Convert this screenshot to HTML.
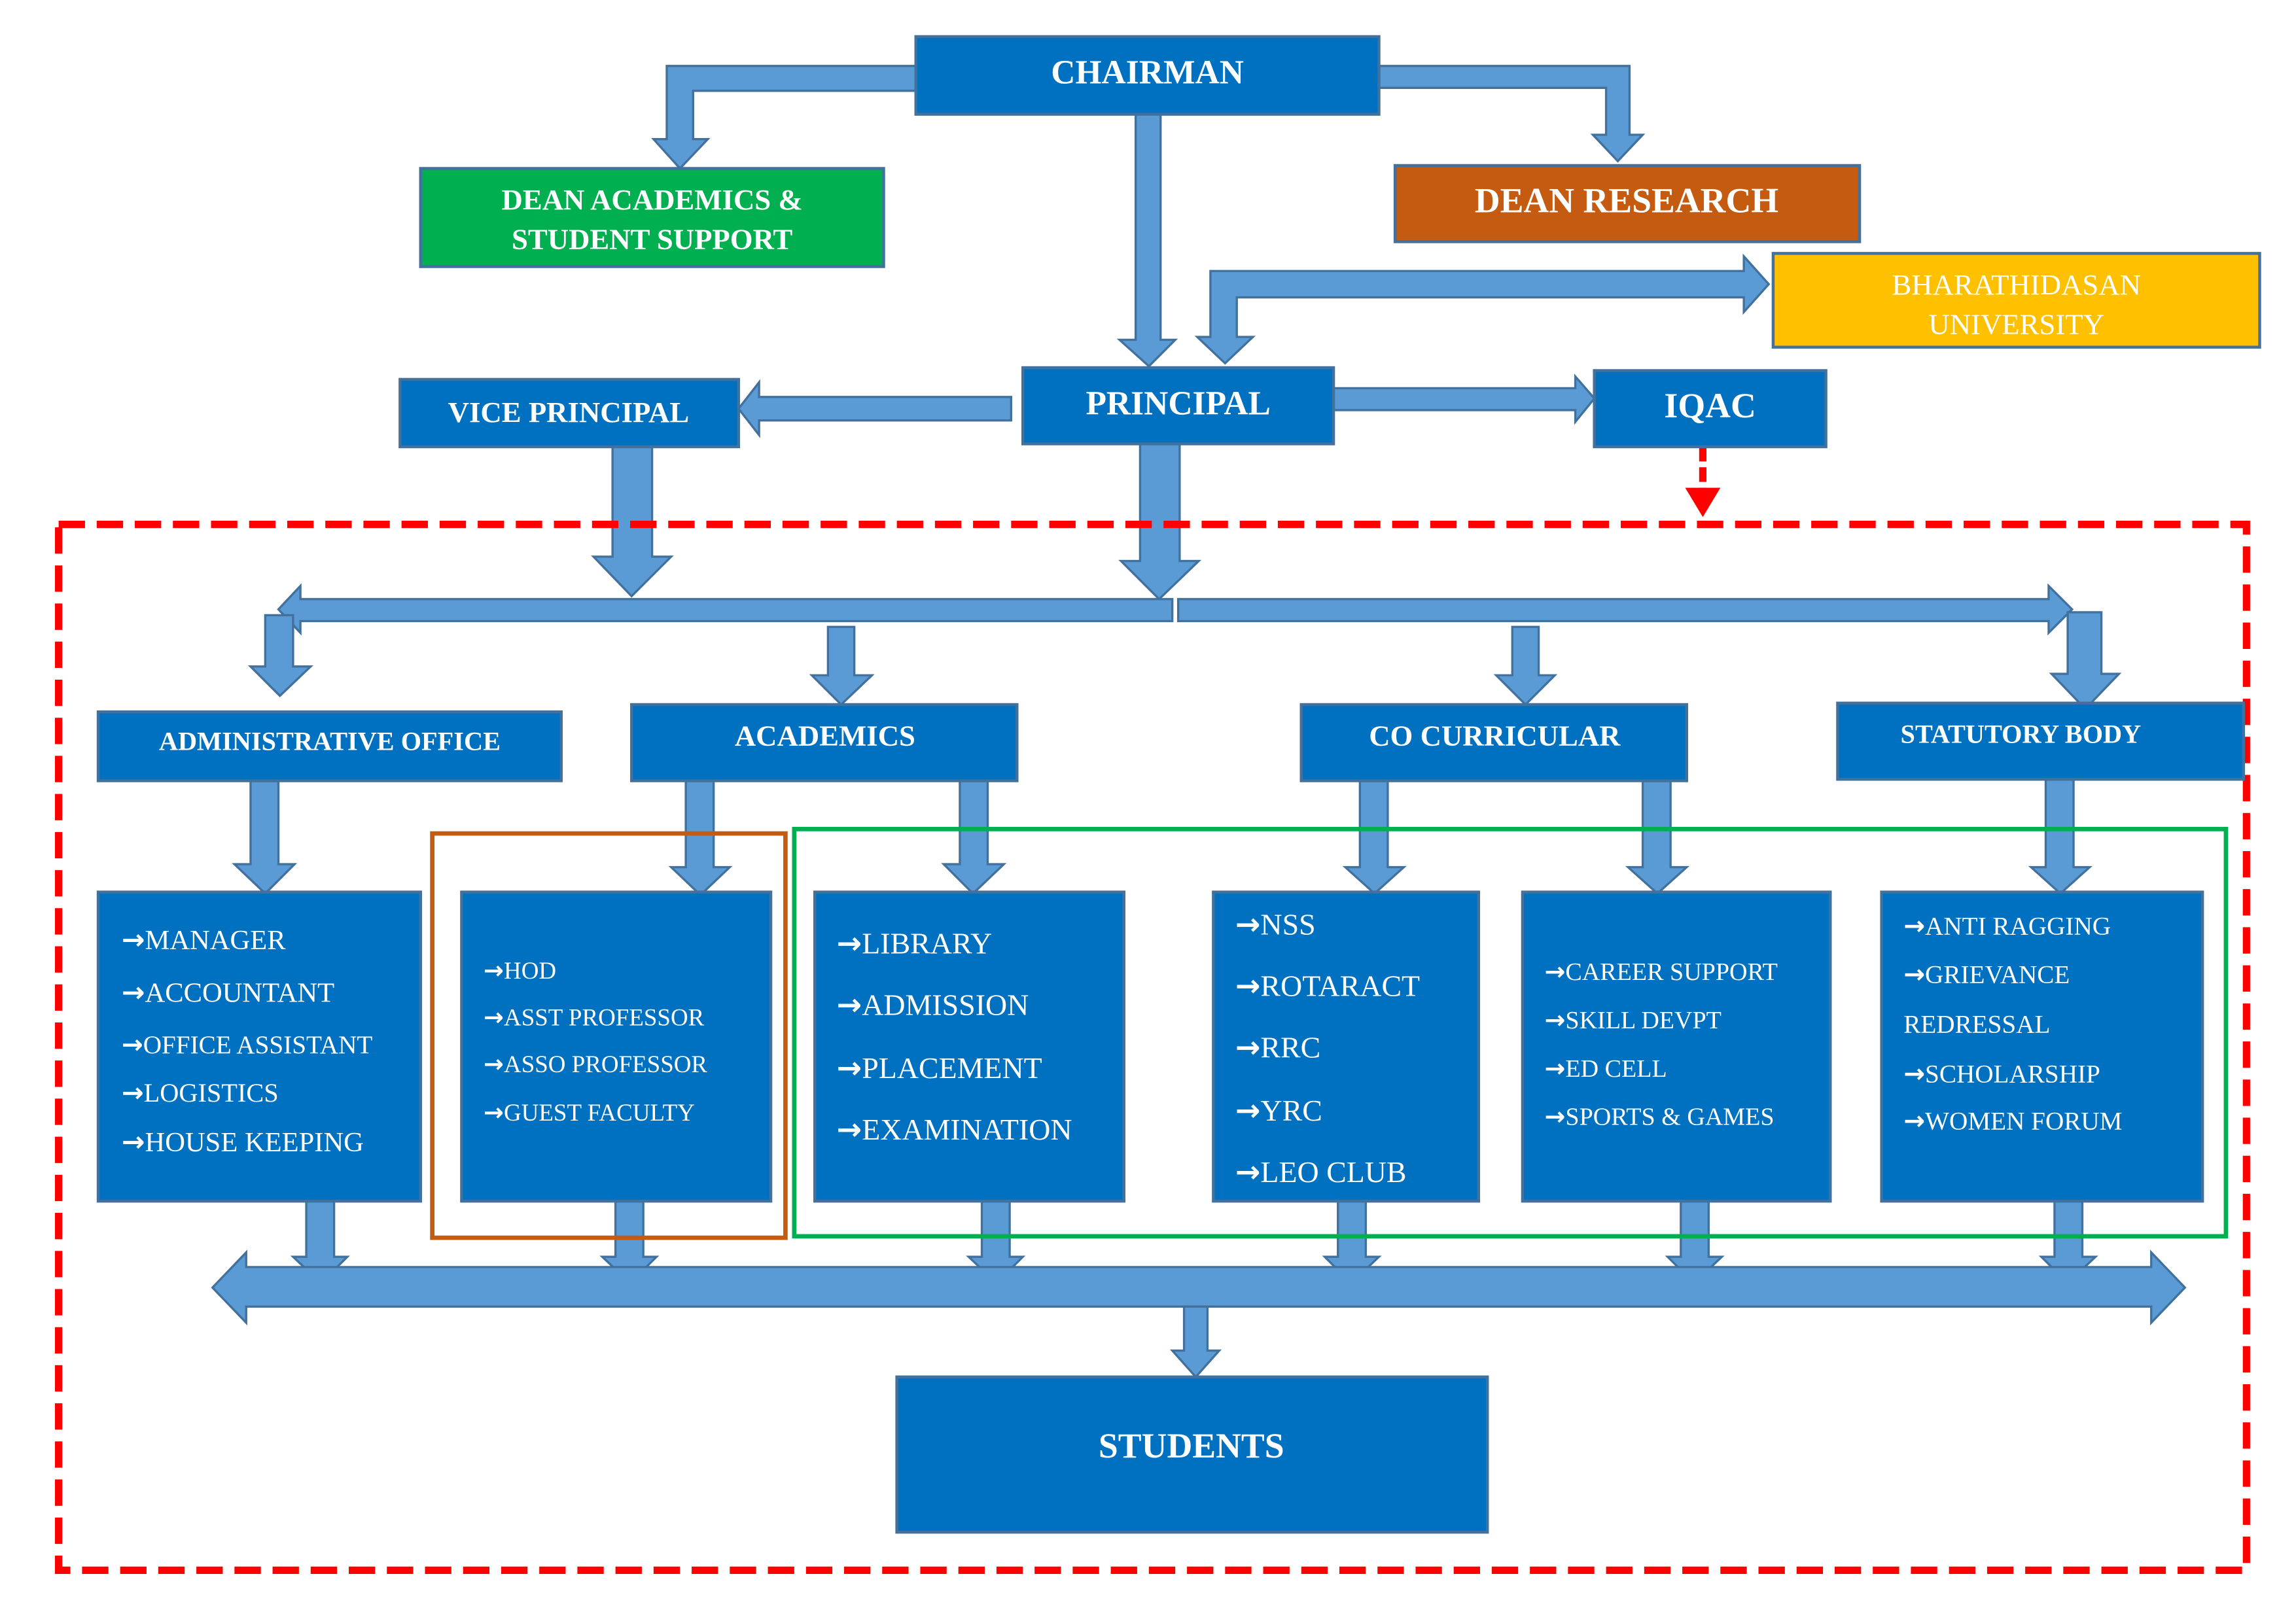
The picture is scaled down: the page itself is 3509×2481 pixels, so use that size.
<!DOCTYPE html>
<html><head><meta charset="utf-8"><style>
html,body{margin:0;padding:0;background:#fff;}
svg{display:block;}
text{font-family:"Liberation Serif",serif;fill:#fff;}
.h{font-weight:bold;}
.a{font-family:"DejaVu Sans",sans-serif;font-weight:bold;}
</style></head><body>
<svg width="3509" height="2481" viewBox="0 0 1566.8 1108" preserveAspectRatio="none" xmlns="http://www.w3.org/2000/svg">
<g fill="#5B9BD5" stroke="#41719C" stroke-width="1.5">
<polygon points="625,45 455,45 455,95 446,95 464,115 483,95 473,95 473,62 625,62"/>
<polygon points="941,45 1112,45 1112,92 1121,92 1104,110 1087,92 1096,92 1096,60 941,60"/>
<polygon points="775,78 792,78 792,232 802,232 784,250 764,232 775,232"/>
<polygon points="1190,185 1190,175 1207,194 1190,213 1190,203 844,203 844,230 855,230 836,248 817,230 826,230 826,185"/>
<polygon points="905,265 1075,265 1075,257 1088,272 1075,288 1075,280 905,280"/>
<polygon points="690,271 518,271 518,261 504,279 518,297 518,287 690,287"/>
<polygon points="418,305 445,305 445,380 458,380 431,407 405,380 418,380"/>
<polygon points="778,300 805,300 805,383 818,383 791,409 765,383 778,383"/>
<polygon points="800,409 205,409 205,400 190,416 205,432 205,424 800,424"/>
<polygon points="804,409 1398,409 1398,400 1414,416 1398,432 1398,424 804,424"/>
<polygon points="181,420 200,420 200,455 212,455 191,475 171,455 181,455"/>
<polygon points="1411,418 1434,418 1434,460 1446,460 1423,484 1400,460 1411,460"/>
<polygon points="565,428 583,428 583,461 595,461 574,481 554,461 565,461"/>
<polygon points="1032,428 1050,428 1050,461 1061,461 1041,481 1021,461 1032,461"/>
<polygon points="171,533 190,533 190,590 201,590 181,610 160,590 171,590"/>
<polygon points="468,533 487,533 487,592 498,592 478,611 458,592 468,592"/>
<polygon points="655,533 674,533 674,590 685,590 664,610 644,590 655,590"/>
<polygon points="928,533 947,533 947,592 958,592 938,610 918,592 928,592"/>
<polygon points="1121,533 1140,533 1140,592 1151,592 1131,610 1111,592 1121,592"/>
<polygon points="1396,532 1415,532 1415,592 1426,592 1406,610 1386,592 1396,592"/>
<polygon points="209,820 228,820 228,858 237,858 219,876 200,858 209,858"/>
<polygon points="420,820 439,820 439,858 448,858 430,876 411,858 420,858"/>
<polygon points="670,820 689,820 689,858 698,858 680,876 661,858 670,858"/>
<polygon points="913,820 932,820 932,858 941,858 922,876 904,858 913,858"/>
<polygon points="1147,820 1166,820 1166,858 1175,858 1156,876 1138,858 1147,858"/>
<polygon points="1402,820 1421,820 1421,858 1430,858 1411,876 1393,858 1402,858"/>
<polygon points="145,879 168,855 168,865 1468,865 1468,855 1491,879 1468,903 1468,892 168,892 168,903"/>
<polygon points="808,892 824,892 824,922 832,922 816,940 800,922 808,922"/>
</g>
<rect x="40" y="358" width="1493" height="714" fill="none" stroke="#FF0000" stroke-width="5" stroke-dasharray="18,8"/>
<rect x="295" y="569" width="241" height="276" fill="none" stroke="#C55A11" stroke-width="3"/>
<rect x="542" y="566" width="977" height="278" fill="none" stroke="#00B050" stroke-width="3"/>
<line x1="1162" y1="305" x2="1162" y2="336" stroke="#FF0000" stroke-width="5" stroke-dasharray="10,4"/>
<polygon points="1150,333 1174,333 1162,353" fill="#FF0000"/>
<g stroke="#41719C" stroke-width="2">
<rect x="625" y="25" width="316" height="53" fill="#0070C0"/>
<rect x="287" y="115" width="316" height="67" fill="#00B050"/>
<rect x="952" y="113" width="317" height="52" fill="#C55A11"/>
<rect x="1210" y="173" width="332" height="64" fill="#FFC000"/>
<rect x="698" y="251" width="212" height="52" fill="#0070C0"/>
<rect x="273" y="259" width="231" height="46" fill="#0070C0"/>
<rect x="1088" y="253" width="158" height="52" fill="#0070C0"/>
<rect x="67" y="486" width="316" height="47" fill="#0070C0"/>
<rect x="431" y="481" width="263" height="52" fill="#0070C0"/>
<rect x="888" y="481" width="263" height="52" fill="#0070C0"/>
<rect x="1254" y="480" width="277" height="52" fill="#0070C0"/>
<rect x="67" y="609" width="220" height="211" fill="#0070C0"/>
<rect x="315" y="609" width="211" height="211" fill="#0070C0"/>
<rect x="556" y="609" width="211" height="211" fill="#0070C0"/>
<rect x="828" y="609" width="181" height="211" fill="#0070C0"/>
<rect x="1039" y="609" width="210" height="211" fill="#0070C0"/>
<rect x="1284" y="609" width="219" height="211" fill="#0070C0"/>
<rect x="612" y="940" width="403" height="106" fill="#0070C0"/>
</g>
<g text-anchor="middle">
<text class="h" x="783" y="57" font-size="23">CHAIRMAN</text>
<text class="h" x="445" y="143" font-size="20">DEAN ACADEMICS &amp;</text>
<text class="h" x="445" y="170" font-size="20">STUDENT SUPPORT</text>
<text class="h" x="1110" y="145" font-size="24">DEAN RESEARCH</text>
<text x="1376" y="201" font-size="20">BHARATHIDASAN</text>
<text x="1376" y="228" font-size="20">UNIVERSITY</text>
<text class="h" x="804" y="283" font-size="23">PRINCIPAL</text>
<text class="h" x="388" y="288" font-size="20">VICE PRINCIPAL</text>
<text class="h" x="1167" y="285" font-size="24">IQAC</text>
<text class="h" x="225" y="512" font-size="18">ADMINISTRATIVE OFFICE</text>
<text class="h" x="563" y="509" font-size="20">ACADEMICS</text>
<text class="h" x="1020" y="509" font-size="20">CO CURRICULAR</text>
<text class="h" x="1379" y="507" font-size="18">STATUTORY BODY</text>
<text class="h" x="813" y="995" font-size="24">STUDENTS</text>
</g>
<g font-size="19">
<text x="83" y="648"><tspan class="a">→</tspan>MANAGER</text>
<text x="83" y="684"><tspan class="a">→</tspan>ACCOUNTANT</text>
<text x="83" y="719" font-size="17.5"><tspan class="a">→</tspan>OFFICE ASSISTANT</text>
<text x="83" y="752" font-size="18"><tspan class="a">→</tspan>LOGISTICS</text>
<text x="83" y="786"><tspan class="a">→</tspan>HOUSE KEEPING</text>
</g>
<g font-size="16.5">
<text x="330" y="668"><tspan class="a">→</tspan>HOD</text>
<text x="330" y="700"><tspan class="a">→</tspan>ASST PROFESSOR</text>
<text x="330" y="732"><tspan class="a">→</tspan>ASSO PROFESSOR</text>
<text x="330" y="765"><tspan class="a">→</tspan>GUEST FACULTY</text>
</g>
<g font-size="20.5">
<text x="571" y="651"><tspan class="a">→</tspan>LIBRARY</text>
<text x="571" y="693"><tspan class="a">→</tspan>ADMISSION</text>
<text x="571" y="736"><tspan class="a">→</tspan>PLACEMENT</text>
<text x="571" y="778"><tspan class="a">→</tspan>EXAMINATION</text>
</g>
<g font-size="20.5">
<text x="843" y="638"><tspan class="a">→</tspan>NSS</text>
<text x="843" y="680"><tspan class="a">→</tspan>ROTARACT</text>
<text x="843" y="722"><tspan class="a">→</tspan>RRC</text>
<text x="843" y="765"><tspan class="a">→</tspan>YRC</text>
<text x="843" y="807"><tspan class="a">→</tspan>LEO CLUB</text>
</g>
<g font-size="17">
<text x="1054" y="669"><tspan class="a">→</tspan>CAREER SUPPORT</text>
<text x="1054" y="702"><tspan class="a">→</tspan>SKILL DEVPT</text>
<text x="1054" y="735"><tspan class="a">→</tspan>ED CELL</text>
<text x="1054" y="768"><tspan class="a">→</tspan>SPORTS &amp; GAMES</text>
</g>
<g font-size="17.5">
<text x="1299" y="638"><tspan class="a">→</tspan>ANTI RAGGING</text>
<text x="1299" y="671"><tspan class="a">→</tspan>GRIEVANCE</text>
<text x="1299" y="705">REDRESSAL</text>
<text x="1299" y="739"><tspan class="a">→</tspan>SCHOLARSHIP</text>
<text x="1299" y="771"><tspan class="a">→</tspan>WOMEN FORUM</text>
</g>
</svg>
</body></html>
